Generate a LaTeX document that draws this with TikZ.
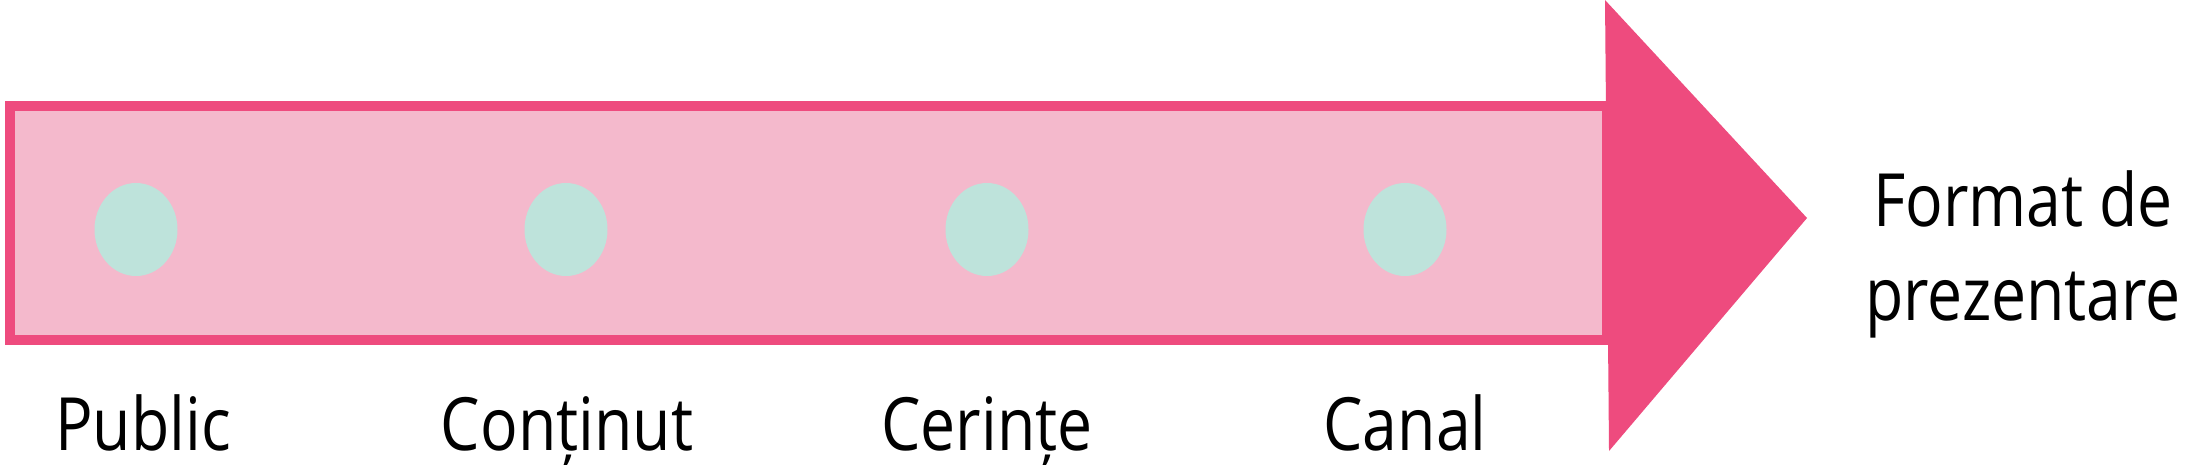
\documentclass[tikz,border=0pt]{standalone}
\usepackage{fontspec}
\setmainfont[FakeStretch=0.85]{Open Sans}
\usetikzlibrary{shapes.geometric}
\definecolor{arrowpink}{HTML}{EE4B7E}
\definecolor{bodypink}{HTML}{F4B9CC}
\definecolor{dotteal}{HTML}{BEE3DB}
\tikzset{
  dotmark/.style={ellipse, fill=dotteal, draw=none, minimum width=83pt, minimum height=93pt, inner sep=0pt},
  labeltext/.style={anchor=base, inner sep=0pt, font=\fontsize{73.5}{94}\selectfont, text=black},
}
\begin{document}
\begin{tikzpicture}[x=1pt,y=-1pt]
\useasboundingbox (0,0) rectangle (2199,464);
\fill[white] (0,0) rectangle (2199,464);
% body of the arrow
\draw[draw=arrowpink, fill=bodypink, line width=10pt] (10,106) rectangle (1607,340);
% head of the arrow
\fill[arrowpink] (1605,0) -- (1807,218) -- (1609,451) -- cycle;
% dots
\node[dotmark] (d1) at (136,229.5) {};
\node[dotmark] (d2) at (566,229.5) {};
\node[dotmark] (d3) at (987,229.5) {};
\node[dotmark] (d4) at (1405,229.5) {};
% labels
\node[labeltext] (l1) at (143,450) {Public};
\node[labeltext] (l2) at (567,450) {Conținut};
\node[labeltext] (l3) at (987,450) {Cerințe};
\node[labeltext] (l4) at (1405,450) {Canal};
\node[labeltext, align=center] (l5) at (2023,320) {Format de\\prezentare};
\end{tikzpicture}
\end{document}
